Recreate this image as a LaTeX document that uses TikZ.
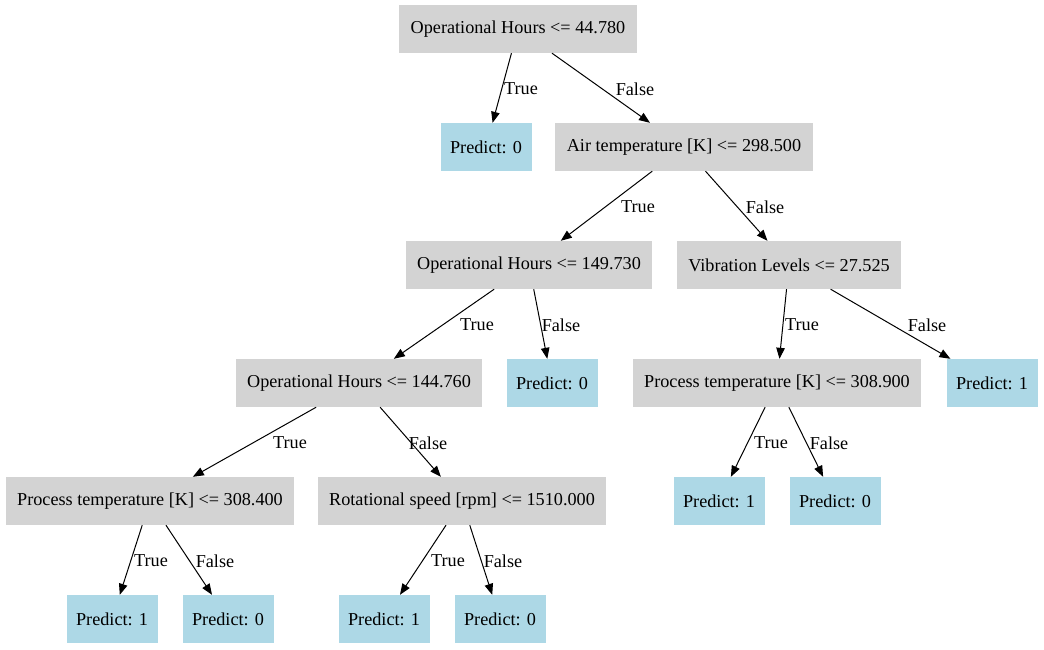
\documentclass[tikz,border=0pt]{standalone}
\usepackage{fontspec}
\setmainfont{Liberation Serif}
\usetikzlibrary{arrows.meta}
\definecolor{gbox}{HTML}{D3D3D3}
\definecolor{bbox}{HTML}{ADD8E6}
\tikzset{
  split/.style={fill=gbox, draw=none, minimum height=48pt, inner xsep=11.5pt, font=\fontsize{18.2}{22}\selectfont},
  leaf/.style={fill=bbox, draw=none, minimum height=48pt, minimum width=91pt, inner xsep=4pt, font=\fontsize{18.2}{22}\selectfont},
  edge/.style={draw=black, line width=1pt, -{Triangle[length=11pt,width=8.5pt]}},
  lbl/.style={inner sep=0pt, font=\fontsize{18.2}{22}\selectfont}
}
\begin{document}
\begin{tikzpicture}[x=1pt,y=-1pt]
\fill[white] (0,0) rectangle (1044,649);
\useasboundingbox (0,0) rectangle (1044,649);
% nodes
\node[split] (root) at (518,29) {Operational Hours <= 44.780};
\node[leaf]  (p0a)  at (486,147) {Predict: 0};
\node[split] (air)  at (684,147) {Air temperature [K] <= 298.500};
\node[split] (oh149) at (529,265) {Operational Hours <= 149.730};
\node[split] (vib)  at (789,265) {Vibration Levels <= 27.525};
\node[split] (oh144) at (359,383) {Operational Hours <= 144.760};
\node[leaf]  (p0b)  at (552,383) {Predict: 0};
\node[split] (pt309) at (777,383) {Process temperature [K] <= 308.900};
\node[leaf]  (p1a)  at (992,383) {Predict: 1};
\node[split] (pt308) at (150,501) {Process temperature [K] <= 308.400};
\node[split] (rot)  at (462,501) {Rotational speed [rpm] <= 1510.000};
\node[leaf]  (p1b)  at (719,501) {Predict: 1};
\node[leaf]  (p0c)  at (835,501) {Predict: 0};
\node[leaf]  (p1c)  at (112,619) {Predict: 1};
\node[leaf]  (p0d)  at (228,619) {Predict: 0};
\node[leaf]  (p1d)  at (384,619) {Predict: 1};
\node[leaf]  (p0e)  at (500,619) {Predict: 0};
% edges
\draw[edge] (root) -- (p0a);
\draw[edge] (root) -- (air);
\draw[edge] (air) -- (oh149);
\draw[edge] (air) -- (vib);
\draw[edge] (oh149) -- (oh144);
\draw[edge] (oh149) -- (p0b);
\draw[edge] (vib) -- (pt309);
\draw[edge] (vib) -- (p1a);
\draw[edge] (oh144) -- (pt308);
\draw[edge] (oh144) -- (rot);
\draw[edge] (pt309) -- (p1b);
\draw[edge] (pt309) -- (p0c);
\draw[edge] (pt308) -- (p1c);
\draw[edge] (pt308) -- (p0d);
\draw[edge] (rot) -- (p1d);
\draw[edge] (rot) -- (p0e);
% edge labels
\node[lbl] (l1) at (521,89) {True};
\node[lbl] (l2) at (635,89) {False};
\node[lbl] (l3) at (638,207) {True};
\node[lbl] (l4) at (765,207) {False};
\node[lbl] (l5) at (477,325) {True};
\node[lbl] (l6) at (561,325) {False};
\node[lbl] (l7) at (802,325) {True};
\node[lbl] (l8) at (927,325) {False};
\node[lbl] (l9) at (290,443) {True};
\node[lbl] (l10) at (428,443) {False};
\node[lbl] (l11) at (771,443) {True};
\node[lbl] (l12) at (829,443) {False};
\node[lbl] (l13) at (151,561) {True};
\node[lbl] (l14) at (215,561) {False};
\node[lbl] (l15) at (448,561) {True};
\node[lbl] (l16) at (503,561) {False};
\end{tikzpicture}
\end{document}
